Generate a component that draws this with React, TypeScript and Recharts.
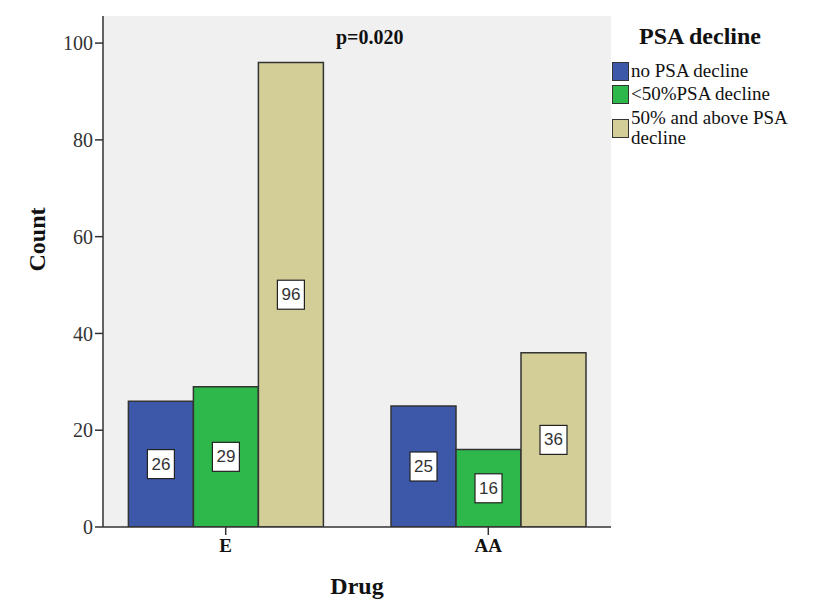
import React from "react";
import {
  BarChart,
  Bar,
  XAxis,
  YAxis,
  CartesianGrid,
  LabelList,
} from "recharts";

const drugs = ["E", "AA"];
const noDecline = [26, 25];
const under50 = [29, 16];
const over50 = [96, 36];
const yTicks = [0, 20, 40, 60, 80, 100];

const SERIES = [
  { key: "none", name: "no PSA decline", color: "#3d57a9", values: noDecline },
  { key: "under", name: "<50%PSA decline", color: "#2eb84b", values: under50 },
  { key: "over", name: "50% and above PSA decline", color: "#d3ce97", values: over50 },
];

const data = drugs.map((d, i) => {
  const row: Record<string, any> = { drug: d };
  SERIES.forEach((s) => (row[s.key] = s.values[i]));
  return row;
});

const SERIF = '"Liberation Serif", "Times New Roman", serif';

function BoxLabel(props: any) {
  const { x, y, width, height, value } = props;
  const cx = x + width / 2;
  const cy = y + height / 2;
  return (
    <g>
      <rect x={cx - 13.5} y={cy - 14.5} width={27} height={29} fill="#fff" stroke="#222" strokeWidth={1.2} />
      <text
        x={cx}
        y={cy + 1}
        textAnchor="middle"
        dominantBaseline="middle"
        fontFamily='"Liberation Sans", Arial, sans-serif'
        fontSize={17}
        fill="#333"
      >
        {value}
      </text>
    </g>
  );
}

function LegendBox() {
  return (
    <div style={{ position: "absolute", left: 612, top: 22, width: 200, fontFamily: SERIF, color: "#111" }}>
      <div style={{ fontWeight: "bold", fontSize: 24, marginLeft: 27, marginBottom: 11, lineHeight: "28px" }}>PSA decline</div>
      {SERIES.map((s, i) => (
        <div key={s.key} style={{ display: "flex", alignItems: "center", marginTop: i === 2 ? 4 : 3 }}>
          <div
            style={{
              width: 15,
              height: 17,
              background: s.color,
              border: "1.5px solid #333",
              flex: "none",
            }}
          />
          <div style={{ fontSize: 19, lineHeight: "20px", width: 180, marginLeft: 2 }}>{s.name}</div>
        </div>
      ))}
    </div>
  );
}

export default function App() {
  return (
    <div style={{ position: "absolute", left: 0, top: 0, width: 815, height: 606, background: "#fff" }}>
      <BarChart
        width={815}
        height={606}
        data={data}
        margin={{ top: 16, right: 204, bottom: 0, left: 0 }}
        barCategoryGap={34}
        barGap={0}
      >
        <CartesianGrid fill="#f0f0f0" horizontal={false} vertical={false} />
        <XAxis
          dataKey="drug"
          height={79}
          padding={{ left: -8.6, right: -8.6 }}
          axisLine={{ stroke: "#333", strokeWidth: 1.5 }}
          tickLine={{ stroke: "#333", strokeWidth: 1.5 }}
          tickSize={8}
          tick={{ fontFamily: SERIF, fontWeight: "bold", fontSize: 19, fill: "#111", dy: 2 }}
          label={{
            value: "Drug",
            position: "insideBottom",
            offset: 12,
            fontFamily: SERIF,
            fontWeight: "bold",
            fontSize: 24,
            fill: "#111",
          }}
        />
        <XAxis xAxisId="top" dataKey="drug" orientation="top" height={0} tick={false} tickLine={false} axisLine={{ stroke: "#888", strokeWidth: 1.5 }} />
        <YAxis
          width={103}
          domain={[0, 105.6]}
          ticks={yTicks}
          allowDataOverflow
          axisLine={{ stroke: "#333", strokeWidth: 1.5 }}
          tickLine={{ stroke: "#333", strokeWidth: 1.5 }}
          tickSize={8}
          tick={{ fontFamily: SERIF, fontSize: 20, fill: "#333" }}
          label={{
            value: "Count",
            angle: -90,
            position: "insideLeft",
            offset: 36,
            fontFamily: SERIF,
            fontWeight: "bold",
            fontSize: 24,
            fill: "#111",
          }}
        />
        <YAxis yAxisId="right" orientation="right" width={0} tick={false} tickLine={false} axisLine={{ stroke: "#888", strokeWidth: 1.5 }} />
        {SERIES.map((s) => (
          <Bar key={s.key} dataKey={s.key} name={s.name} fill={s.color} stroke="#333" strokeWidth={1.5} isAnimationActive={false}>
            <LabelList dataKey={s.key} content={BoxLabel} />
          </Bar>
        ))}
      </BarChart>
      <LegendBox />
      <div
        style={{
          position: "absolute",
          left: 336,
          top: 26,
          fontFamily: SERIF,
          fontWeight: "bold",
          fontSize: 20,
          color: "#111",
        }}
      >
        p=0.020
      </div>
    </div>
  );
}
